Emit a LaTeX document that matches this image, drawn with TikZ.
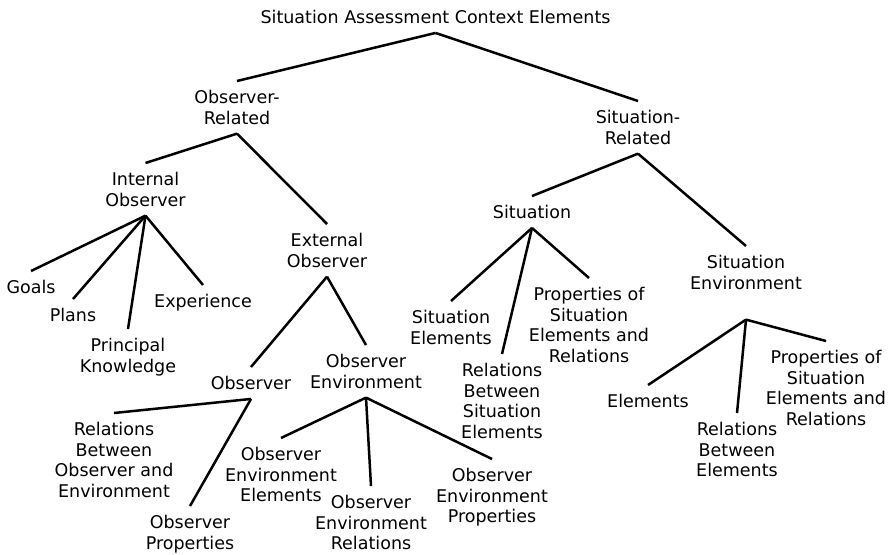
\documentclass[tikz,border=0pt]{standalone}
\usepackage{fontspec}
\setmainfont{DejaVu Sans}
\usetikzlibrary{positioning}

\begin{document}
\begin{tikzpicture}[
    x=1pt, y=-1pt,
    lbl/.style={anchor=north, align=center, inner xsep=0pt, inner ysep=9pt, font=\fontsize{17.5}{20.7}\selectfont},
    br/.style={line width=2.5pt}
]
\useasboundingbox (0,0) rectangle (890,554);

\node[lbl] (title) at (435.5,1) {Situation Assessment Context Elements};
\node[lbl] (obsrel) at (237,81) {Observer-\\Related};
\node[lbl] (sitrel) at (638,101) {Situation-\\Related};

\node[lbl] (intobs) at (145.5,163) {Internal\\Observer};
\node[lbl] (extobs) at (327,224) {External\\Observer};
\node[lbl] (goals) at (31,271) {Goals};
\node[lbl] (plans) at (73,299) {Plans};
\node[lbl] (princ) at (128,329) {Principal\\Knowledge};
\node[lbl] (exper) at (203,285) {Experience};

\node[lbl] (observer) at (251,367) {Observer};
\node[lbl] (obsenv) at (366,345) {Observer\\Environment};
\node[lbl] (relobs) at (114,413) {Relations\\Between\\Observer and\\Environment};
\node[lbl] (obsprop) at (190,506) {Observer\\Properties};
\node[lbl] (oee) at (281,438) {Observer\\Environment\\Elements};
\node[lbl] (oer) at (371,486) {Observer\\Environment\\Relations};
\node[lbl] (oep) at (492,459) {Observer\\Environment\\Properties};

\node[lbl] (situation) at (532,196) {Situation};
\node[lbl] (sitenv) at (746,246) {Situation\\Environment};
\node[lbl] (sitel) at (451,301) {Situation\\Elements};
\node[lbl] (relsit) at (502,354) {Relations\\Between\\Situation\\Elements};
\node[lbl] (propsit) at (589,278) {Properties of\\Situation\\Elements and\\Relations};
\node[lbl] (elems) at (648,385) {Elements};
\node[lbl] (relel) at (737,413) {Relations\\Between\\Elements};
\node[lbl] (propel) at (826,341) {Properties of\\Situation\\Elements and\\Relations};

\foreach \a/\b in {title/obsrel, title/sitrel, obsrel/intobs, obsrel/extobs,
    intobs/goals, intobs/plans, intobs/princ, intobs/exper,
    extobs/observer, extobs/obsenv, observer/relobs, observer/obsprop,
    obsenv/oee, obsenv/oer, obsenv/oep,
    sitrel/situation, sitrel/sitenv, situation/sitel, situation/relsit, situation/propsit}
    \draw[br] (\a.south) -- (\b.north);
\foreach \b in {elems, relel, propel}
    \draw[br] ([yshift=-21pt]sitenv.south) -- (\b.north);
\end{tikzpicture}
\end{document}
